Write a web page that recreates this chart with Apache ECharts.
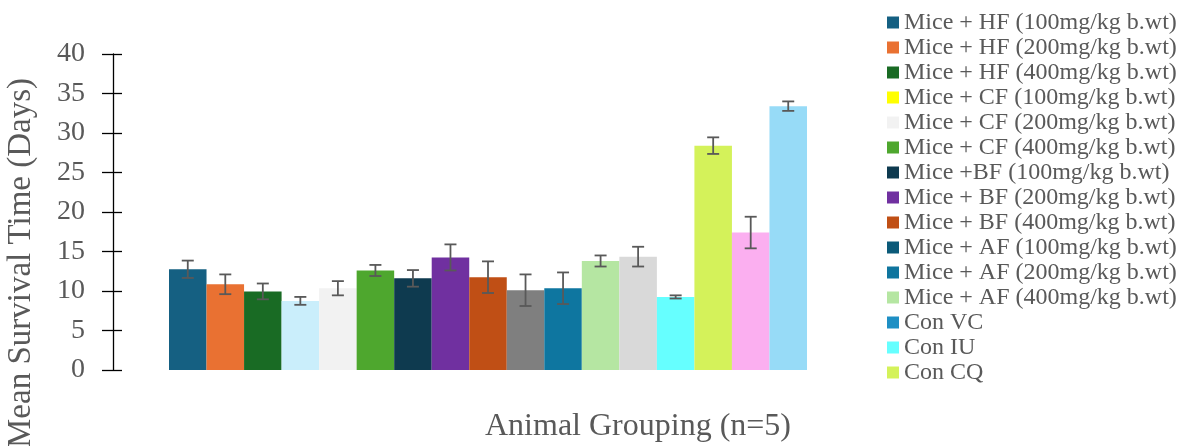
<!DOCTYPE html>
<html>
<head>
<meta charset="utf-8">
<script src="https://cdn.jsdelivr.net/npm/echarts@6/dist/echarts.min.js"></script>
<style>html,body{margin:0;padding:0;background:#fff}#c{width:1186px;height:446px}</style>
</head>
<body>
<div id="c"></div>
<script>
const categories = ['G1','G2','G3','G4','G5','G6','G7','G8','G9','G10','G11','G12','G13','G14','G15','G16','G17'];
const values = [12.75, 10.85, 9.95, 8.75, 10.35, 12.6, 11.6, 14.25, 11.75, 10.1, 10.35, 13.8, 14.35, 9.25, 28.4, 17.4, 33.4];
const errors = [1.1, 1.25, 1.0, 0.5, 0.9, 0.7, 1.05, 1.65, 2.0, 2.0, 2.0, 0.7, 1.25, 0.2, 1.05, 2.0, 0.6];
const barColors = ['#156082','#e97132','#196b24','#caeefb','#f2f2f2','#4ea72e','#0e3a4f','#7030a0','#c04f15','#7f7f7f','#0e76a0','#b5e6a2','#d9d9d9','#66ffff','#d4f25a','#fbaff0','#97dbf7'];
const legendNames = ['Mice + HF (100mg/kg b.wt)','Mice + HF (200mg/kg b.wt)','Mice + HF (400mg/kg b.wt)','Mice + CF (100mg/kg b.wt)','Mice + CF (200mg/kg b.wt)','Mice + CF (400mg/kg b.wt)','Mice +BF (100mg/kg b.wt)','Mice + BF (200mg/kg b.wt)','Mice + BF (400mg/kg b.wt)','Mice + AF (100mg/kg b.wt)','Mice + AF (200mg/kg b.wt)','Mice + AF (400mg/kg b.wt)','Con VC','Con IU','Con CQ'];
const legendColors = ['#156082','#e97132','#196b24','#ffff00','#f2f2f2','#4ea72e','#0e3a4f','#7030a0','#c04f15','#0b5a79','#0f759e','#b5e6a2','#1e8fc4','#66ffff','#d4f25a'];
const yTicks = {min: 0, max: 40, interval: 5};

const font = 'Liberation Serif';
const txt = '#595959';
const chart = echarts.init(document.getElementById('c'));

const legendSeries = legendNames.map((n, i) => ({
  name: n, type: 'scatter', data: [], itemStyle: {color: legendColors[i], opacity: 1}
}));

chart.setOption({
  animation: false,
  grid: {left: 169, right: 379, top: 54, bottom: 76, outerBoundsMode: 'none', containLabel: false},
  legend: {
    orient: 'vertical', left: 882, top: 5, icon: 'rect',
    itemWidth: 12, itemHeight: 12, itemGap: 0,
    data: legendNames,
    itemStyle: {opacity: 1},
    textStyle: {fontFamily: font, fontSize: 24, lineHeight: 25, color: txt}
  },
  xAxis: {
    type: 'category', data: categories,
    axisLine: {show: false}, axisTick: {show: false}, axisLabel: {show: false},
    name: 'Animal Grouping (n=5)', nameLocation: 'middle', nameGap: 41,
    nameTextStyle: {fontFamily: font, fontSize: 32, color: txt, padding: [0, 0, 0, 300]}
  },
  yAxis: [{
    type: 'value', min: yTicks.min, max: yTicks.max, interval: yTicks.interval,
    position: 'left', offset: 56,
    axisLine: {show: true, lineStyle: {color: '#000', width: 1.3}},
    axisTick: {show: true, length: 11, lineStyle: {color: '#000', width: 1.3}},
    axisLabel: {fontFamily: font, fontSize: 28, color: txt, margin: 28},
    splitLine: {show: false},
    name: 'Mean Survival Time (Days)', nameLocation: 'middle', nameGap: 75,
    nameTextStyle: {fontFamily: font, fontSize: 33, color: txt, padding: [0, 102, 0, 0]}
  }, {
    type: 'value', min: yTicks.min, max: yTicks.max, interval: yTicks.interval,
    position: 'left', offset: 56,
    axisLine: {show: false},
    axisTick: {show: true, inside: true, length: 9, lineStyle: {color: '#000', width: 1.3}},
    axisLabel: {show: false}, splitLine: {show: false}
  }],
  series: [{
    type: 'bar', barWidth: '100%', yAxisIndex: 0,
    data: values.map((v, i) => ({value: v, itemStyle: {color: barColors[i]}}))
  }, {
    type: 'custom', yAxisIndex: 0, z: 10,
    data: values.map((v, i) => [i, v - errors[i], v + errors[i]]),
    encode: {x: 0, y: [1, 2]},
    renderItem: function (params, api) {
      const x = api.value(0);
      const lo = api.coord([x, api.value(1)]);
      const hi = api.coord([x, api.value(2)]);
      const hw = 6;
      const st = {stroke: '#595959', lineWidth: 1.8};
      return {type: 'group', children: [
        {type: 'line', shape: {x1: lo[0], y1: lo[1], x2: hi[0], y2: hi[1]}, style: st},
        {type: 'line', shape: {x1: lo[0] - hw, y1: lo[1], x2: lo[0] + hw, y2: lo[1]}, style: st},
        {type: 'line', shape: {x1: hi[0] - hw, y1: hi[1], x2: hi[0] + hw, y2: hi[1]}, style: st}
      ]};
    }
  }].concat(legendSeries)
});
</script>
</body>
</html>
